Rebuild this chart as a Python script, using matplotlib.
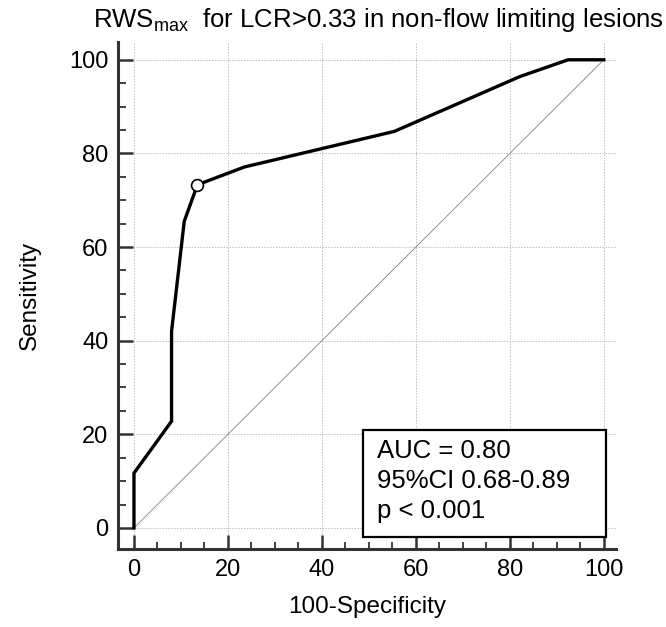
import numpy as np
import matplotlib.pyplot as plt
from matplotlib.patches import Rectangle
from matplotlib.ticker import MultipleLocator

plt.rcParams['font.family'] = ['Liberation Sans', 'DejaVu Sans']
plt.rcParams['mathtext.fontset'] = 'custom'
plt.rcParams['mathtext.rm'] = 'Liberation Sans'

# ROC curve points (100-Specificity, Sensitivity)
fpr = [0, 0, 8.0, 8.0, 10.7, 13.5, 23.5, 55.4, 82.1, 92.4, 100]
tpr = [0, 11.7, 22.8, 42.0, 65.5, 73.3, 77.1, 84.7, 96.4, 100, 100]
cut_x, cut_y = 13.5, 73.3
stats_lines = ["AUC = 0.80", "95%CI 0.68-0.89", "p < 0.001"]

fig = plt.figure(figsize=(6.66, 6.27), dpi=100)
ax = fig.add_axes([118/666, 1 - 549/627, (616-118)/666, (549-42)/627])

ax.plot([0, 100], [0, 100], color='#808080', lw=0.6, zorder=2)
ax.plot(fpr, tpr, color='black', lw=2.4, zorder=3, solid_joinstyle='miter')
ax.plot([cut_x], [cut_y], 'o', ms=8.5, mfc='white', mec='black', mew=1.2, zorder=4)

ax.set_xlim(-3.4, 102.6)
ax.set_ylim(-4.5, 103.8)
ax.xaxis.set_major_locator(MultipleLocator(20))
ax.xaxis.set_minor_locator(MultipleLocator(5))
ax.yaxis.set_major_locator(MultipleLocator(20))
ax.yaxis.set_minor_locator(MultipleLocator(5))
ax.grid(True, which='major', color='#bdbdbd', ls=(0, (1.5, 1.5)), lw=0.7, zorder=1)

for s in ['top', 'right']:
    ax.spines[s].set_visible(False)
for s in ['left', 'bottom']:
    ax.spines[s].set_linewidth(2.2)
    ax.spines[s].set_color('#333333')
ax.tick_params(which='major', direction='in', length=11, width=1.8, color='#333333',
               labelsize=17, pad=7)
ax.tick_params(which='minor', direction='in', length=6, width=1.3, color='#333333')
ax.tick_params(axis='x', which='major', length=10)
ax.tick_params(axis='x', which='minor', length=5)

ax.set_xlabel('100-Specificity', fontsize=17.5, labelpad=11)
ax.set_ylabel('Sensitivity', fontsize=17.5, labelpad=20)
ax.set_title(r'RWS$_{\mathregular{max}}$  for LCR>0.33 in non-flow limiting lesions',
             fontsize=18.5, x=0.523, pad=11)

box = Rectangle((48.7, -1.9), 100.4 - 48.7, 20.9 + 1.9, facecolor='white',
                edgecolor='black', lw=1.6, zorder=5)
ax.add_patch(box)
ax.text(51.8, 10.0, "\n".join(stats_lines), fontsize=18.5, va='center', ha='left',
        linespacing=1.33, zorder=6)

fig.savefig('out.png', dpi=100)
